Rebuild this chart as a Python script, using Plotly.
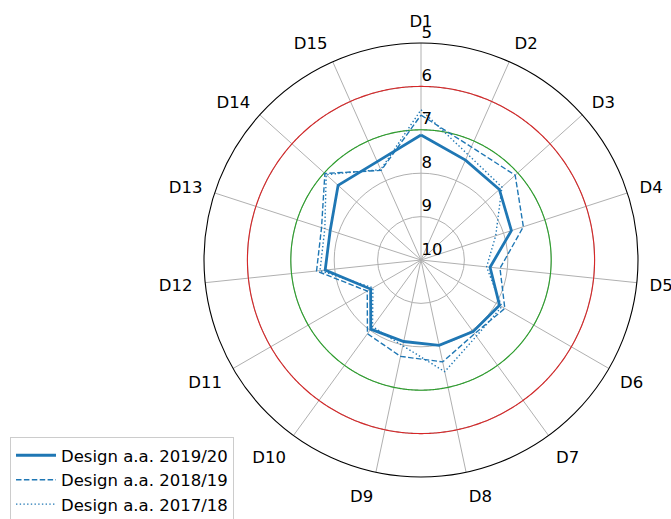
import numpy as np
import plotly.graph_objects as go

categories = [f"D{i}" for i in range(1, 16)]
angles = [i * 24 for i in range(15)]

s2019 = [7.12, 7.48, 7.57, 7.81, 8.40, 7.91, 7.96, 7.99, 8.08, 8.03, 8.66, 7.78, 7.80, 7.43, 7.52]
s2018 = [6.66, 7.15, 7.08, 7.52, 8.17, 7.77, 7.90, 7.60, 7.73, 7.90, 8.57, 7.58, 7.59, 7.02, 7.74]
s2017 = [6.54, 7.34, 7.49, 8.19, 8.48, 7.85, 7.83, 7.37, 7.98, 8.10, 8.72, 7.66, 7.67, 7.06, 7.72]

names = ["Design a.a. 2019/20", "Design a.a. 2018/19", "Design a.a. 2017/18"]
radial_ticks = [5, 6, 7, 8, 9, 10]
ref_levels = [6, 7]
ref_colors = ["#d62728", "#2ca02c"]

BLUE = "#1f77b4"
FONT = "DejaVu Sans"
FS = 16.5

fig = go.Figure()

circ_theta = np.linspace(0, 360, 721)
for lvl, col in zip(ref_levels, ref_colors):
    fig.add_trace(go.Scatterpolar(
        r=[lvl] * len(circ_theta), theta=circ_theta, mode="lines",
        line=dict(color=col, width=1.1), showlegend=False, hoverinfo="skip"))

def closed(v):
    return list(v) + [v[0]]

th = closed(angles)
fig.add_trace(go.Scatterpolar(r=closed(s2019), theta=th, mode="lines", name=names[0],
                              line=dict(color=BLUE, width=2.8)))
fig.add_trace(go.Scatterpolar(r=closed(s2018), theta=th, mode="lines", name=names[1],
                              line=dict(color=BLUE, width=1.4, dash="5.5px,2.4px")))
fig.add_trace(go.Scatterpolar(r=closed(s2017), theta=th, mode="lines", name=names[2],
                              line=dict(color=BLUE, width=1.4, dash="1.4px,2.3px")))

W, H = 671, 519
cx, cy, R = 421, 260, 217
fig.update_layout(
    width=W, height=H,
    margin=dict(l=0, r=0, t=0, b=0, autoexpand=False),
    paper_bgcolor="white",
    font=dict(family=FONT, size=FS, color="black"),
    polar=dict(
        domain=dict(x=[(cx - R) / W, (cx + R) / W], y=[(H - cy - R) / H, (H - cy + R) / H]),
        bgcolor="white",
        radialaxis=dict(range=[10, 5], tickvals=radial_ticks,
                        ticktext=[f"{t}<br> " for t in radial_ticks],
                        angle=90, tickangle=90, showline=False, ticks="",
                        gridcolor="#b0b0b0", gridwidth=0.9,
                        tickfont=dict(family=FONT, size=FS)),
        angularaxis=dict(type="linear", tickmode="array", tickvals=angles, ticktext=categories,
                         direction="clockwise", rotation=90, showline=True,
                         linecolor="black", linewidth=1.1,
                         gridcolor="#b0b0b0", gridwidth=0.9,
                         ticks="outside", ticklen=9, tickcolor="rgba(0,0,0,0)",
                         tickfont=dict(family=FONT, size=FS)),
    ),
    legend=dict(x=10 / W, y=(H - 437) / H, xanchor="left", yanchor="top",
                bgcolor="white", bordercolor="#cccccc", borderwidth=1,
                itemwidth=40, font=dict(family=FONT, size=FS)),
)

fig.write_html("out.html", config={"displayModeBar": False},
               post_script="document.body.style.margin='0';")
